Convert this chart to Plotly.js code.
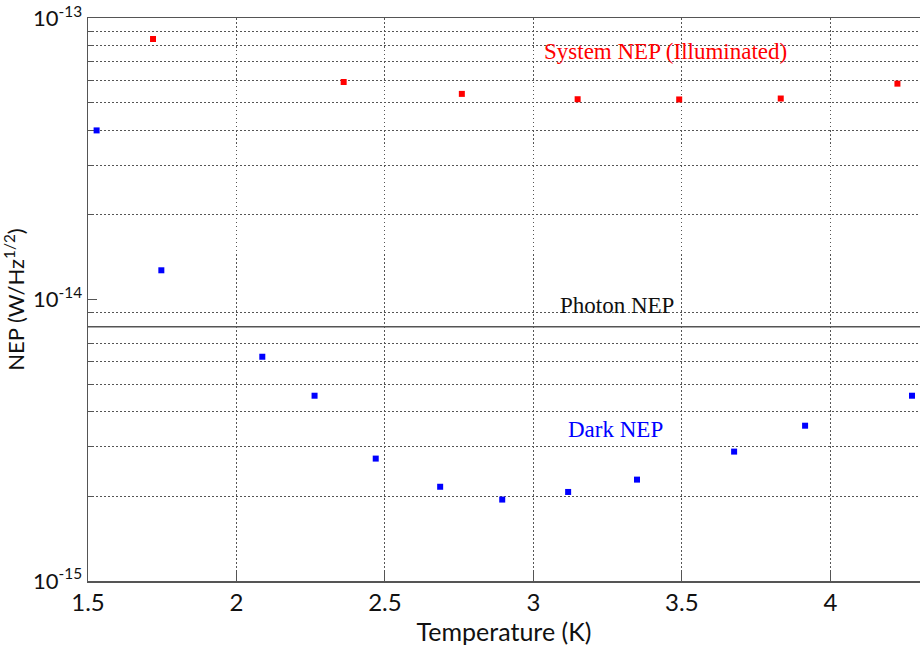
<!DOCTYPE html>
<html><head><meta charset="utf-8">
<script src="https://cdn.plot.ly/plotly-3.0.1.min.js"></script>
<style>body{margin:0}#c{width:920px;height:646px}</style>
</head><body><div id="c"></div>
<script>
const sysT = [1.719, 2.361, 2.759, 3.149, 3.491, 3.833, 4.226];
const sysNEP = [8.43e-14, 5.93e-14, 5.38e-14, 5.15e-14, 5.14e-14, 5.18e-14, 5.85e-14];
const darkT = [1.529, 1.747, 2.087, 2.263, 2.469, 2.686, 2.895, 3.117, 3.349, 3.676, 3.915, 4.275];
const darkNEP = [3.99e-14, 1.27e-14, 6.26e-15, 4.55e-15, 2.72e-15, 2.16e-15, 1.945e-15, 2.07e-15, 2.29e-15, 2.88e-15, 3.56e-15, 4.55e-15];
const photonT = [1.5, 4.302];
const photonNEP = [8.0e-15, 8.0e-15];
const xTicks = [1.5, 2, 2.5, 3, 3.5, 4];
const yTicks = [1e-15, 1e-14, 1e-13];
const yTickText = ['10<sup>-15</sup>', '10<sup>-14</sup>', '10<sup>-13</sup>'];
const yMinor = [2e-15,3e-15,4e-15,5e-15,6e-15,7e-15,8e-15,9e-15,2e-14,3e-14,4e-14,5e-14,6e-14,7e-14,8e-14,9e-14];

const traces = [
  {x: photonT, y: photonNEP, mode: 'lines', line: {color: '#555', width: 1.3}, hoverinfo: 'skip', showlegend: false},
  {x: sysT, y: sysNEP, mode: 'markers', marker: {symbol: 'square', size: 6, color: '#ff0000'}, showlegend: false},
  {x: darkT, y: darkNEP, mode: 'markers', marker: {symbol: 'square', size: 6, color: '#0000ff'}, showlegend: false}
];
const sans = 'Lato, "Open Sans", sans-serif';
const serif = '"Liberation Serif", "Times New Roman", serif';
const gdash = '1.5px,2.5px';
const layout = {
  width: 920, height: 646,
  margin: {l: 88, r: 0, t: 18, b: 65},
  paper_bgcolor: '#fff', plot_bgcolor: '#fff',
  showlegend: false,
  xaxis: {
    range: [1.5, 4.302], tickmode: 'array', tickvals: xTicks, ticktext: xTicks.map(String),
    showgrid: true, gridcolor: '#555', griddash: gdash, gridwidth: 1,
    showline: true, linecolor: '#555', linewidth: 1.5, mirror: true,
    ticks: 'inside', ticklen: 9, tickcolor: '#555', zeroline: false,
    ticklabeloverflow: 'allow',
    tickfont: {family: sans, size: 24, color: '#111'},
    title: {text: 'Temperature (K)', font: {family: sans, size: 25, color: '#111'}, standoff: 2}
  },
  yaxis: {
    type: 'log', range: [-15.0005, -12.9995], tickmode: 'array', tickvals: yTicks, ticktext: yTickText,
    showgrid: false, showline: true, linecolor: '#555', linewidth: 1.5, mirror: true,
    ticks: 'inside', ticklen: 9, tickcolor: '#555', zeroline: false,
    ticklabeloverflow: 'allow',
    tickfont: {family: sans, size: 22, color: '#111'},
    minor: {tickmode: 'array', tickvals: yMinor, showgrid: true, gridcolor: '#555', griddash: gdash, gridwidth: 1, ticks: 'inside', ticklen: 5, tickcolor: '#555'},
    title: {text: 'NEP (W/Hz<sup>1/2</sup>)', font: {family: sans, size: 22, color: '#111'}, standoff: 2}
  },
  annotations: [
    {x: 3.03, y: Math.log10(7.64e-14), xref: 'x', yref: 'y', text: 'System NEP (Illuminated)', showarrow: false, xanchor: 'left', font: {family: serif, size: 23, color: '#ff0000'}},
    {x: 3.083, y: Math.log10(9.56e-15), xref: 'x', yref: 'y', text: 'Photon NEP', showarrow: false, xanchor: 'left', font: {family: serif, size: 23, color: '#111'}},
    {x: 3.11, y: Math.log10(3.45e-15), xref: 'x', yref: 'y', text: 'Dark NEP', showarrow: false, xanchor: 'left', font: {family: serif, size: 23, color: '#0000ff'}}
  ]
};
Plotly.newPlot('c', traces, layout, {displayModeBar: false, staticPlot: true});
</script></body></html>
